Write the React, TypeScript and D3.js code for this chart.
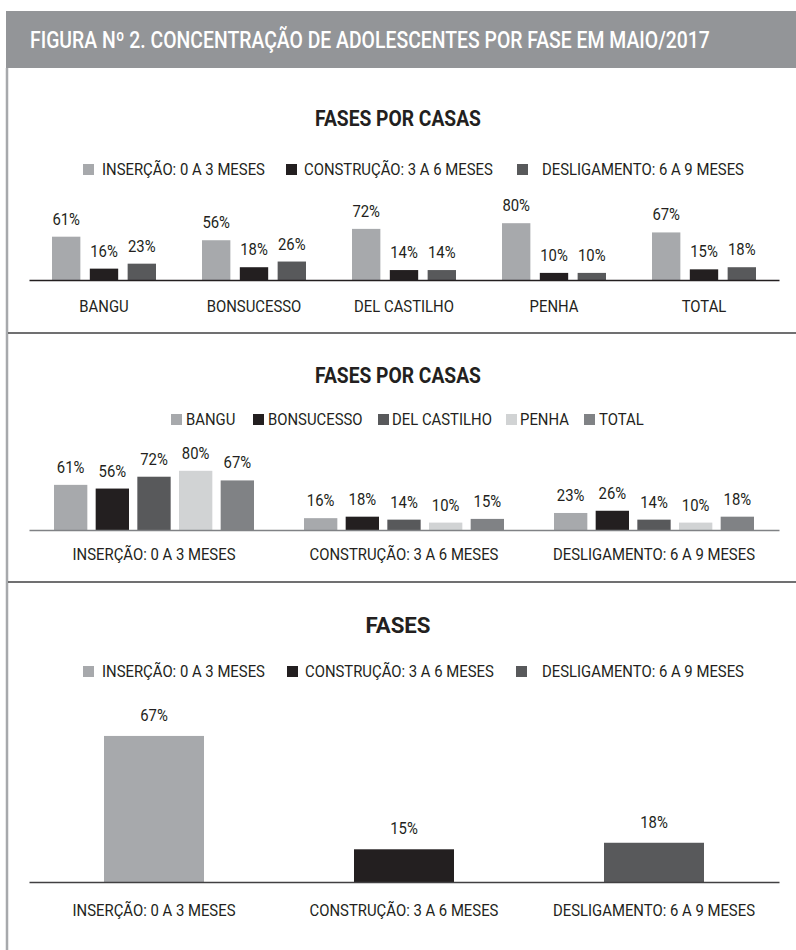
import React, { useEffect, useRef } from 'react';
import * as d3 from 'd3';

const houses = ['BANGU', 'BONSUCESSO', 'DEL CASTILHO', 'PENHA', 'TOTAL'];
const phases = ['INSERÇÃO: 0 A 3 MESES', 'CONSTRUÇÃO: 3 A 6 MESES', 'DESLIGAMENTO: 6 A 9 MESES'];

// percent of adolescents in each phase, per house
const insercao = [61, 56, 72, 80, 67];
const construcao = [16, 18, 14, 10, 15];
const desligamento = [23, 26, 14, 10, 18];

// overall (TOTAL) per phase
const totalPorFase = [67, 15, 18];

const phaseColors = ['#a7a9ac', '#231f20', '#58595b'];
const houseColors = ['#a7a9ac', '#231f20', '#58595b', '#d1d3d4', '#808285'];

const W = 796;
const H = 950;
const FONT = 'Roboto, "Open Sans", sans-serif';
const INK = '#231f20';
const SIZE = 16;
const SQUEEZE = 0.93; // the source font is a little narrower than Roboto

type Sel = d3.Selection<any, unknown, null, undefined>;
type Legend = { labels: string[]; colors: string[]; boxX: number[]; textX: number[]; y: number };

const App: React.FC = () => {
  const svgRef = useRef<SVGSVGElement>(null);

  useEffect(() => {
    if (!svgRef.current) return;
    const svg = d3.select(svgRef.current);
    svg.selectAll('*').remove();

    // text placed through a transform so it can be narrowed horizontally
    const label = (g: Sel, x: number, y: number, s: string, anchor = 'start', sx = SQUEEZE) =>
      g
        .append('text')
        .attr('transform', `translate(${x},${y}) scale(${sx},1)`)
        .attr('text-anchor', anchor)
        .attr('font-family', FONT)
        .attr('font-size', SIZE)
        .attr('fill', INK)
        .text(s);

    // text squeezed to a measured width
    const fitted = (x: number, y: number, s: string, size: number, weight: number, width: number, anchor: string, fill: string) => {
      const t = svg
        .append('text')
        .attr('text-anchor', anchor)
        .attr('font-family', FONT)
        .attr('font-weight', weight)
        .attr('font-size', size)
        .attr('fill', fill)
        .text(s);
      const natural = (t.node() as SVGTextElement).getComputedTextLength() || width;
      t.attr('transform', `translate(${x},${y}) scale(${width / natural},1)`);
      return t;
    };

    // frame
    svg.append('rect').attr('x', 6).attr('y', 11).attr('width', W - 6).attr('height', 57).attr('fill', '#939598');
    fitted(30, 48, 'FIGURA Nº 2. CONCENTRAÇÃO DE ADOLESCENTES POR FASE EM MAIO/2017', 23, 500, 680, 'start', '#fff');
    svg.append('line').attr('x1', 7).attr('x2', 7).attr('y1', 68).attr('y2', H).attr('stroke', '#a7a9ac').attr('stroke-width', 2.5);
    [333, 582].forEach((y) => {
      svg.append('line').attr('x1', 8).attr('x2', W).attr('y1', y).attr('y2', y).attr('stroke', '#414042').attr('stroke-width', 1.6);
    });

    const legend = (lg: Legend) => {
      const g = svg.append('g');
      lg.labels.forEach((lab, i) => {
        g.append('rect').attr('x', lg.boxX[i]).attr('y', lg.y - 11).attr('width', 11).attr('height', 11).attr('fill', lg.colors[i]);
        label(g, lg.textX[i], lg.y, lab);
      });
    };

    const axis = (x: d3.ScaleBand<string>, y0: number, color: string, pad: number) => {
      const g = svg
        .append('g')
        .attr('transform', `translate(0,${y0})`)
        .call(d3.axisBottom(x).tickSize(0).tickSizeOuter(0).tickPadding(pad));
      g.select('.domain').attr('stroke', color).attr('stroke-width', 1.6);
      g.selectAll('text')
        .attr('font-family', FONT)
        .attr('font-size', SIZE)
        .attr('fill', INK)
        .attr('transform', `scale(${SQUEEZE},1)`);
    };

    // ---------- panel 1: phases per house ----------
    fitted(398, 126, 'FASES POR CASAS', 22, 700, 166, 'middle', INK);
    legend({ labels: phases, colors: phaseColors, boxX: [83, 286, 517], textX: [102, 304, 542], y: 175 });

    const x1 = d3.scaleBand<string>().domain(houses).range([29, 779]);
    const inner1 = d3.scaleBand<string>().domain(phases).range([-52, 52]).paddingInner(0.25);
    const y1 = d3.scaleLinear().domain([0, 100]).range([280, 209]);
    const series = [insercao, construcao, desligamento];
    const g1 = svg.append('g');
    houses.forEach((h, hi) => {
      const cx = (x1(h) || 0) + x1.bandwidth() / 2;
      phases.forEach((p, pi) => {
        const v = series[pi][hi];
        const bx = cx + (inner1(p) || 0);
        g1.append('rect')
          .attr('x', bx)
          .attr('y', y1(v))
          .attr('width', inner1.bandwidth())
          .attr('height', y1(0) - y1(v))
          .attr('fill', phaseColors[pi]);
        label(g1, bx + inner1.bandwidth() / 2, y1(v) - 12, `${v}%`, 'middle');
      });
    });
    axis(x1, 280, INK, 21);

    // ---------- panel 2: houses per phase ----------
    fitted(398, 383, 'FASES POR CASAS', 22, 700, 166, 'middle', INK);
    legend({
      labels: houses,
      colors: houseColors,
      boxX: [171, 253, 378, 506, 584],
      textX: [186, 268, 392, 520, 599],
      y: 425,
    });

    const x2 = d3.scaleBand<string>().domain(phases).range([29, 779]);
    const inner2 = d3.scaleBand<string>().domain(houses).range([-100, 100]).paddingInner(0.2);
    const y2 = d3.scaleLinear().domain([0, 100]).range([530, 456]);
    const g2 = svg.append('g');
    phases.forEach((p, pi) => {
      const cx = (x2(p) || 0) + x2.bandwidth() / 2;
      houses.forEach((h, hi) => {
        const v = series[pi][hi];
        const bx = cx + (inner2(h) || 0);
        g2.append('rect')
          .attr('x', bx)
          .attr('y', y2(v))
          .attr('width', inner2.bandwidth())
          .attr('height', y2(0) - y2(v))
          .attr('fill', houseColors[hi]);
        label(g2, bx + inner2.bandwidth() / 2, y2(v) - 12, `${v}%`, 'middle');
      });
    });
    axis(x2, 530, '#808285', 19);

    // ---------- panel 3: overall phases ----------
    fitted(398, 633, 'FASES', 22, 700, 65, 'middle', INK);
    legend({ labels: phases, colors: phaseColors, boxX: [83, 287, 516], textX: [102, 305, 542], y: 677 });

    const x3 = d3.scaleBand<string>().domain(phases).range([29, 779]);
    const y3 = d3.scaleLinear().domain([0, 100]).range([882, 664]);
    const g3 = svg.append('g');
    phases.forEach((p, pi) => {
      const v = totalPorFase[pi];
      const cx = (x3(p) || 0) + x3.bandwidth() / 2;
      g3.append('rect')
        .attr('x', cx - 50)
        .attr('y', y3(v))
        .attr('width', 100)
        .attr('height', y3(0) - y3(v))
        .attr('fill', phaseColors[pi]);
      label(g3, cx, y3(v) - 15, `${v}%`, 'middle');
    });
    axis(x3, 882, '#414042', 23);
  }, []);

  return (
    <div style={{ position: 'absolute', left: 0, top: 0, background: '#fff' }}>
      <svg ref={svgRef} width={W} height={H} style={{ display: 'block' }}></svg>
    </div>
  );
};

export default App;
